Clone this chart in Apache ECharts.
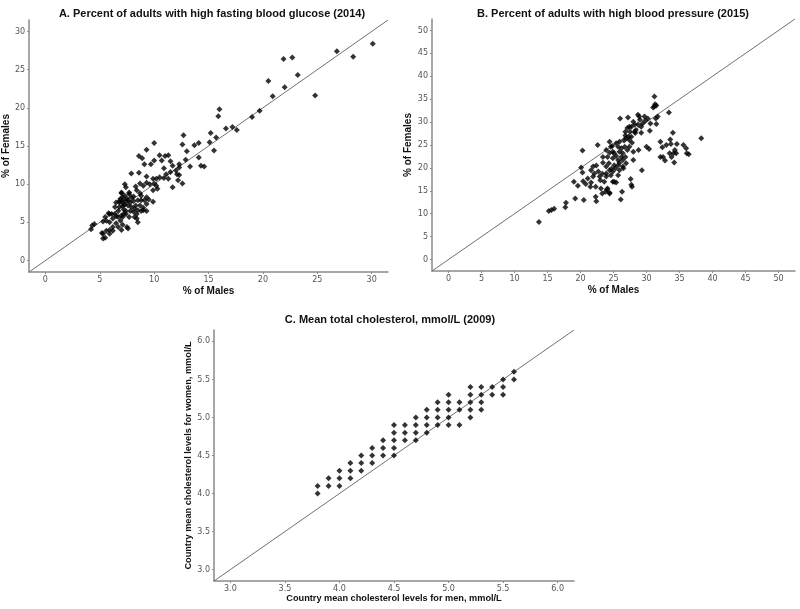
<!DOCTYPE html>
<html><head><meta charset="utf-8">
<script src="https://cdn.jsdelivr.net/npm/echarts@6/dist/echarts.min.js"></script>
<style>html,body{margin:0;padding:0;background:#fff}#c{width:800px;height:609px}</style>
</head><body><div id="c"></div>
<script>
// Panel A: % males vs % females with high fasting blood glucose (2014)
const glucosePoints = [[30.1,28.4],[26.8,27.4],[28.3,26.7],[21.9,26.4],[22.7,26.6],[23.2,24.3],[20.5,23.5],[22.0,22.7],[20.9,21.5],[24.8,21.6],[19.7,19.6],[19.0,18.8],[16.0,19.8],[15.9,18.9],[17.6,17.1],[17.2,17.5],[16.6,17.3],[15.7,16.1],[15.2,16.7],[15.5,14.4],[15.1,15.5],[14.1,15.4],[13.7,15.1],[14.1,13.5],[14.3,12.4],[14.6,12.3],[13.3,12.3],[12.7,16.4],[12.6,15.2],[13.0,14.3],[12.9,13.2],[12.6,10.1],[12.3,11.2],
[10.0,15.4],[9.3,14.5],[8.6,13.7],[8.9,13.4],[7.9,11.4],[8.6,11.5],[9.1,12.6],[10.0,13.1],[9.7,12.6],[10.5,13.8],[11.0,13.7],[11.3,13.8],[10.7,13.1],[10.9,12.1],[11.1,11.3],[11.5,11.6],[11.5,13.0],[11.7,12.4],[12.0,11.8],[12.1,11.3],[12.3,12.6],[12.3,12.2],[12.2,10.5],[11.7,9.6],[11.3,10.7],[10.9,10.8],[10.5,10.9],[10.2,10.7],[9.9,10.7],[10.0,10.1],[10.2,9.8],[10.3,9.4],[9.9,9.2],[9.6,10.0],[9.3,11.0],[9.3,10.2],[9.0,9.8],[8.7,10.1],[8.3,9.7],[8.4,9.2],[8.7,8.8],[8.8,8.5],[9.3,8.3],[9.5,8.0],[9.9,7.7],[9.3,7.4],[9.0,6.9],[9.3,6.5],[8.8,6.5],[8.5,7.9],[8.3,7.2],[8.1,8.4],[7.7,8.9],[7.4,9.6],[7.3,10.0],[7.0,8.9],[6.9,8.1],[7.1,7.9],[7.5,8.1],[7.8,7.6],[7.9,8.3],[8.1,7.8],[8.2,6.8],[8.4,6.1],[8.4,5.5],[8.5,5.0],[8.2,5.7],[7.8,6.5],[7.6,7.2],[7.3,7.3],[7.1,7.5],[6.8,7.0],[6.7,6.5],[6.5,7.6],[6.4,7.0],[7.2,6.7],[7.4,6.1],[7.0,5.9],[6.7,5.7],[6.9,5.2],[7.1,4.7],[7.5,4.4],[7.6,4.2],[7.0,4.0],[7.2,6.1],[7.4,6.5],[6.4,6.1],[6.1,6.1],[5.8,6.2],[6.2,5.5],[5.9,5.0],[5.6,5.2],[5.5,5.7],[5.3,5.1],[6.5,4.9],[6.2,4.4],[5.9,4.0],[5.6,3.9],[5.3,3.5],[5.5,3.0],[5.3,2.9],[5.2,3.6],[5.9,3.5],[6.2,3.9],[6.7,4.4],[4.2,4.1],[4.3,4.6],[4.5,4.8],[6.8,7.8],[7.1,8.3],[7.3,8.5],[7.7,8.7],[6.8,7.6],[7.1,7.1],[7.4,7.8],[7.6,7.9],[7.9,7.0],[7.7,5.7],[5.9,6.1],[7.1,5.7],[6.5,5.8],[8.1,6.4],[8.5,6.6],[8.7,7.2],[8.8,7.9],[9.1,7.9],[7.0,8.8],[9.0,6.6]];

// Panel B: % males vs % females with high blood pressure (2015)
const pressurePoints = [[13.7,8.2],[15.2,10.6],[15.6,10.8],[16.0,11.1],[17.7,11.4],[17.8,12.4],[19.2,13.3],[19.0,17.0],[19.6,16.1],[20.3,23.8],[20.1,20.1],[20.3,19.0],[20.4,17.1],[20.5,13.0],[20.8,16.5],[21.1,17.7],[21.5,15.9],[21.6,16.8],[21.9,18.1],[22.1,18.8],[21.9,20.3],[22.4,20.5],[22.3,15.9],[22.3,13.7],[22.4,12.7],[22.6,25.0],[22.7,19.2],[23.0,17.3],[23.1,15.5],[23.3,18.7],[23.4,21.1],[23.3,14.4],[23.9,20.3],[23.9,18.8],[23.8,14.8],[24.1,15.5],[24.4,14.4],[24.4,23.3],[24.1,22.4],[24.3,21.0],[24.6,24.6],[24.8,24.8],[24.9,23.5],[24.9,22.1],[25.1,20.6],[24.7,19.8],[24.4,19.5],[24.9,19.2],[25.1,17.0],[25.4,16.8],[25.3,19.9],[25.7,21.7],[25.4,22.6],[25.7,20.6],[25.9,21.1],[26.2,22.4],[26.4,21.7],[25.9,25.7],[26.2,24.3],[26.0,30.8],[26.1,13.1],[26.3,14.8],[26.5,19.9],[26.4,23.2],[26.7,24.6],[26.8,27.9],[26.9,26.5],[27.1,28.7],[27.2,31.0],[27.4,24.6],[27.4,26.1],[27.5,27.9],[27.7,26.8],[27.7,29.0],[28.0,30.1],[27.6,17.6],[27.7,16.3],[27.8,15.9],[28.0,21.7],[28.0,23.5],[28.2,29.4],[28.3,27.6],[28.4,28.3],[28.7,31.6],[28.9,31.2],[28.8,23.9],[29.2,29.0],[29.2,27.7],[29.3,19.5],[29.4,29.7],[29.7,31.2],[30.0,24.6],[30.2,30.8],[30.4,24.1],[30.5,28.1],[30.6,29.7],[29.8,30.3],[31.2,35.6],[31.2,33.4],[31.5,33.6],[31.4,30.8],[31.5,29.6],[31.7,31.2],[33.4,32.1],[32.1,25.7],[32.4,24.5],[32.1,22.4],[32.5,22.4],[32.8,21.6],[33.0,25.0],[33.6,26.2],[33.7,25.2],[34.0,27.7],[33.5,23.2],[34.1,23.2],[34.2,21.2],[34.3,23.9],[34.6,25.2],[34.5,23.2],[35.6,25.0],[36.0,24.3],[36.1,23.2],[36.4,23.0],[38.3,26.5],[33.8,22.4],[25.7,24.6],[25.9,23.5],[25.1,23.2],[25.4,25.4],[26.6,26.0],[26.8,27.1],[27.3,26.8],[27.8,25.5],[27.1,23.9],[26.8,22.4],[26.9,21.0],[26.4,20.3],[25.9,19.5],[23.6,17.0],[22.9,18.1],[21.6,19.5],[23.9,18.1],[24.6,18.4],[24.9,17.0],[25.7,18.4],[23.4,22.4],[23.9,23.9],[24.4,25.7],[27.4,29.0],[28.2,27.9],[28.7,29.5],[29.0,30.5],[31.3,33.9],[31.0,33.2],[24.0,15.3],[24.4,14.6]];

// Panel C: mean total cholesterol men vs women, mmol/L (2009)
const cholMen   = [3.8,3.8,3.9,3.9,4.0,4.0,4.0,4.1,4.1,4.1,4.2,4.2,4.2,4.3,4.3,4.3,4.4,4.4,4.4,4.5,4.5,4.5,4.5,4.5,4.6,4.6,4.6,4.7,4.7,4.7,4.7,4.8,4.8,4.8,4.8,4.9,4.9,4.9,4.9,5.0,5.0,5.0,5.0,5.0,5.1,5.1,5.1,5.2,5.2,5.2,5.2,5.2,5.3,5.3,5.3,5.3,5.4,5.4,5.5,5.5,5.5,5.6,5.6];
const cholWomen = [4.1,4.0,4.2,4.1,4.3,4.2,4.1,4.4,4.3,4.2,4.5,4.4,4.3,4.6,4.5,4.4,4.7,4.6,4.5,4.9,4.8,4.7,4.6,4.5,4.9,4.8,4.7,5.0,4.9,4.8,4.7,5.1,5.0,4.9,4.8,5.2,5.1,5.0,4.9,5.3,5.2,5.1,5.0,4.9,5.2,5.1,4.9,5.4,5.3,5.2,5.1,5.0,5.4,5.3,5.2,5.1,5.4,5.3,5.5,5.4,5.3,5.6,5.5];

// Axis ranges, ticks and reference (y = x) lines
const rangeA = [-1.5, 31.5], ticksA = [0,5,10,15,20,25,30];
const rangeB = [-2.5, 52.5], ticksB = [0,5,10,15,20,25,30,35,40,45,50];
const rangeC = [2.85, 6.15], ticksC = [3.0,3.5,4.0,4.5,5.0,5.5,6.0];
const titles = ['A. Percent of adults with high fasting blood glucose (2014)','B. Percent of adults with high blood pressure (2015)','C. Mean total cholesterol, mmol/L (2009)'];
const xNames = ['% of Males','% of Males','Country mean cholesterol levels for men, mmol/L'];
const yNames = ['% of Females','% of Females','Country mean cholesterol levels for women, mmol/L'];

const chart = echarts.init(document.getElementById('c'), null, {renderer:'canvas'});
const FONT = 'Liberation Sans, Arial, sans-serif';
function axis(range, ticks, name, gi, gap, dec, nameSize){
  return {
    type:'value', gridIndex:gi, min:range[0], max:range[1], name:name,
    nameLocation:'middle', nameGap:gap,
    nameTextStyle:{fontFamily:FONT, fontWeight:'bold', fontSize:nameSize, color:'#111'},
    axisLine:{show:true, onZero:false, lineStyle:{color:'#8a8a8a', width:1.5}},
    axisTick:{show:true, length:2, customValues:ticks, lineStyle:{color:'#8a8a8a'}},
    axisLabel:{show:true, customValues:ticks, fontSize:8, color:'#555', margin:4, fontFamily:'DejaVu Sans, sans-serif',
      formatter: v => dec ? Number(v).toFixed(1) : String(Math.round(v))},
    splitLine:{show:false}
  };
}
const grids = [
  {left:26, top:20, width:362, height:252},
  {left:432, top:19, width:363, height:252},
  {left:214, top:330, width:360, height:251}
];
const ranges = [rangeA, rangeB, rangeC];
const tickSets = [ticksA, ticksB, ticksC];
const pts = [glucosePoints, pressurePoints, cholMen.map((m,i)=>[m, cholWomen[i]])];
const xGaps = [14, 14, 12], yGaps = [18, 19, 20];
const nameSizes = [10, 10, 9.2];
const titlePos = [[207,3],[608,3],[385,309]];
const option = {
  animation:false,
  backgroundColor:'#fff',
  title: titles.map((t,i)=>({text:t, left:titlePos[i][0], top:titlePos[i][1], textAlign:'center',
    textStyle:{fontFamily:FONT, fontWeight:'bold', fontSize:11, color:'#111'}})),
  grid: grids,
  xAxis: [0,1,2].map(i=>axis(ranges[i], tickSets[i], xNames[i], i, xGaps[i], i===2, nameSizes[i])),
  yAxis: [0,1,2].map(i=>axis(ranges[i], tickSets[i], yNames[i], i, yGaps[i], i===2, nameSizes[i])),
  series: [0,1,2].flatMap(i=>[
    {type:'line', xAxisIndex:i, yAxisIndex:i, data:[[ranges[i][0],ranges[i][0]],[ranges[i][1],ranges[i][1]]],
      showSymbol:false, symbol:'none', lineStyle:{color:'#707070', width:1}, silent:true, z:1},
    {type:'scatter', xAxisIndex:i, yAxisIndex:i, data:pts[i], symbol:'diamond', symbolSize:6,
      itemStyle:{color:'#000'}, z:2}
  ])
};
chart.setOption(option);
</script></body></html>
